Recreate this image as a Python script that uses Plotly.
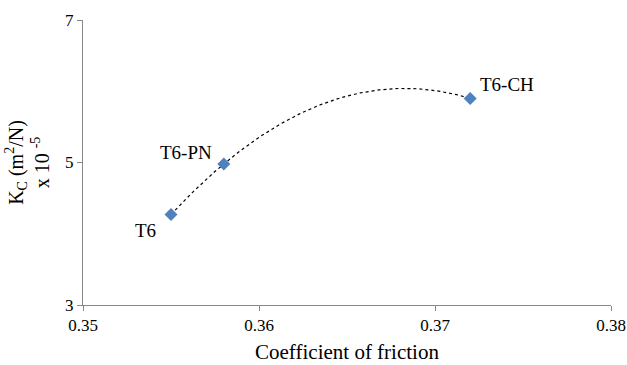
import numpy as np
import plotly.graph_objects as go

labels = ["T6", "T6-PN", "T6-CH"]
friction = [0.355, 0.358, 0.372]
kc = [4.27, 4.98, 5.90]
x_ticks = [0.35, 0.36, 0.37, 0.38]
y_ticks = [3, 5, 7]

# label offsets (pixels) relative to each point
label_dx = [-26, -38, 37]
label_dy = [-16, 11, 14]

# Polynomial (order 2) trendline computed from the data, as in the original chart
coef = np.polyfit(friction, kc, 2)
xt = np.linspace(min(friction), max(friction), 200)
yt = np.polyval(coef, xt)

SERIF = "Liberation Serif, Times New Roman, serif"

fig = go.Figure()
fig.add_trace(go.Scatter(x=xt, y=yt, mode="lines",
                         line=dict(color="black", width=1.2, dash="3px,3px"),
                         hoverinfo="skip", showlegend=False))
fig.add_trace(go.Scatter(x=friction, y=kc, mode="markers",
                         marker=dict(symbol="diamond", size=10, color="#4F81BD"),
                         showlegend=False))

for x, y, t, dx, dy in zip(friction, kc, labels, label_dx, label_dy):
    fig.add_annotation(x=x, y=y, text=t, showarrow=False, xanchor="center", yanchor="middle",
                       xshift=dx, yshift=dy, font=dict(family=SERIF, size=19, color="black"))

fig.update_layout(
    width=627, height=365,
    margin=dict(l=83, r=16, t=20, b=60),
    plot_bgcolor="white", paper_bgcolor="white",
    font=dict(family=SERIF, size=17, color="black"),
)
fig.update_xaxes(range=[0.35, 0.38], tickvals=x_ticks, ticktext=[f"{v:.2f}" for v in x_ticks],
                 showgrid=False, zeroline=False, showline=True, linecolor="#888888", linewidth=1,
                 ticks="outside", ticklen=5, tickcolor="#888888", automargin=False,
                 title=dict(text="Coefficient of friction", font=dict(size=21), standoff=9))
fig.update_yaxes(range=[3, 7], tickvals=y_ticks, ticktext=[str(v) for v in y_ticks],
                 showgrid=False, zeroline=False, showline=True, linecolor="#888888", linewidth=1,
                 ticks="outside", ticklen=5, tickcolor="#888888", automargin=False,
                 title=dict(text="K<sub>C</sub> (m<sup>2</sup>/N)<br>x 10 <sup>-5</sup>",
                            font=dict(size=20), standoff=10))

fig.write_html("out.html", config={"displayModeBar": False},
               post_script="document.body.style.margin='0';")
